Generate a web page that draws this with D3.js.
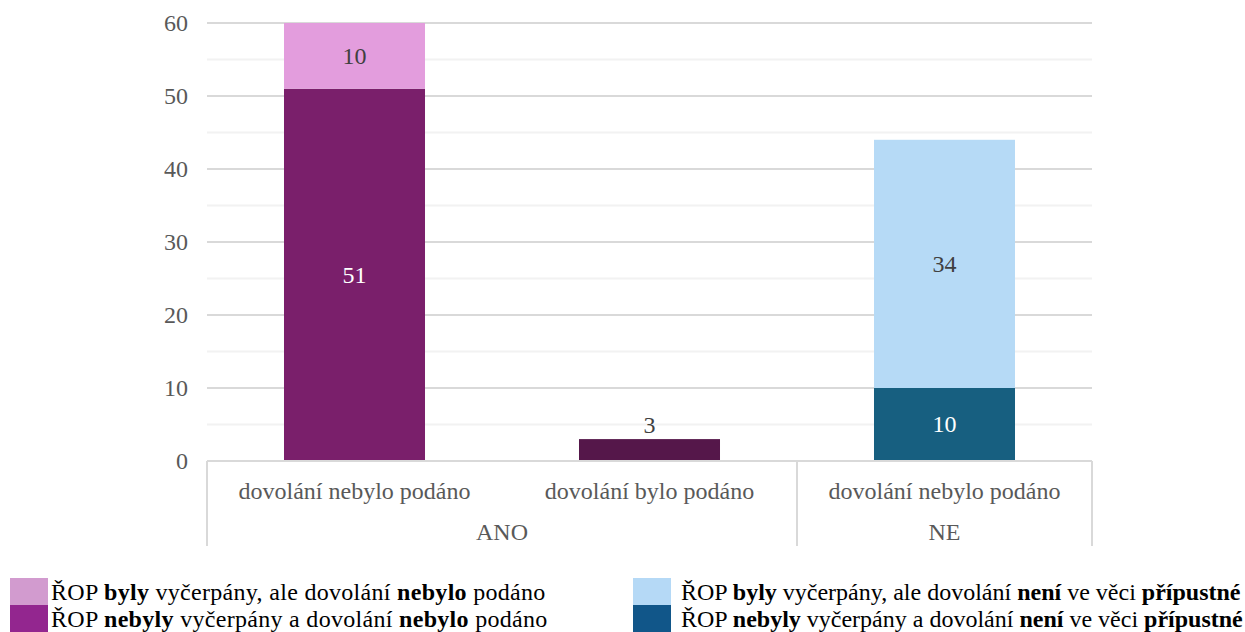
<!DOCTYPE html>
<html><head><meta charset="utf-8">
<script src="https://cdn.jsdelivr.net/npm/d3@7"></script>
<style>
html,body{margin:0;padding:0;background:#fff;}
</style></head>
<body><svg id="c" width="1245" height="632"></svg>
<script>
const categories = ["dovolání nebylo podáno", "dovolání bylo podáno", "dovolání nebylo podáno"];
const groups = ["ANO", "ANO", "NE"];
const groupNames = ["ANO", "NE"];
const yTicks = [0, 10, 20, 30, 40, 50, 60];
const minorTicks = [5, 15, 25, 35, 45, 55];
// series values per category
const sAnoNebylyVal = [51, 0, 0];
const sAnoBylyVal = [10, 0, 0];
const sAnoPodanoVal = [0, 3, 0];
const sNeNebylyVal = [0, 0, 10];
const sNeBylyVal = [0, 0, 34];

const series = [
  {key: "anoNebyly", values: sAnoNebylyVal, color: "#7a1f6b", label: "#ffffff", pos: "center"},
  {key: "anoByly", values: sAnoBylyVal, color: "#e39ddd", label: "#404040", pos: "center"},
  {key: "anoPodano", values: sAnoPodanoVal, color: "#55174a", label: "#404040", pos: "outside"},
  {key: "neNebyly", values: sNeNebylyVal, color: "#175f80", label: "#ffffff", pos: "center"},
  {key: "neByly", values: sNeBylyVal, color: "#b6daf6", label: "#404040", pos: "center"}
];

const legendItems = [
  {color: "#d29bcf", parts: [["ŘOP ", false], ["byly", true], [" vyčerpány, ale dovolání ", false], ["nebylo", true], [" podáno", false]]},
  {color: "#93268f", parts: [["ŘOP ", false], ["nebyly", true], [" vyčerpány a dovolání ", false], ["nebylo", true], [" podáno", false]]},
  {color: "#b5d9f6", parts: [["ŘOP ", false], ["byly", true], [" vyčerpány, ale dovolání ", false], ["není", true], [" ve věci ", false], ["přípustné", true]]},
  {color: "#115689", parts: [["ŘOP ", false], ["nebyly", true], [" vyčerpány a dovolání ", false], ["není", true], [" ve věci ", false], ["přípustné", true]]}
];

const FONT = '"Liberation Serif"';
const FS = 24;
const svg = d3.select("#c");
const pLeft = 207, pRight = 1092, pTop = 23, pBottom = 461;
const y = d3.scaleLinear().domain([0, 60]).range([pBottom, pTop]).clamp(true);
const x = d3.scaleBand().domain(d3.range(categories.length)).range([pLeft, pRight]).paddingInner(0.522).paddingOuter(0.261);
const xSlot = d3.scaleBand().domain(d3.range(categories.length)).range([pLeft, pRight]);

svg.append("g").selectAll("line").data(minorTicks).join("line")
  .attr("x1", pLeft).attr("x2", pRight).attr("y1", d => y(d)).attr("y2", d => y(d))
  .attr("stroke", "#f2f2f2").attr("stroke-width", 2);
svg.append("g").selectAll("line").data(yTicks.filter(d => d > 0)).join("line")
  .attr("x1", pLeft).attr("x2", pRight).attr("y1", d => y(d)).attr("y2", d => y(d))
  .attr("stroke", "#d9d9d9").attr("stroke-width", 2);

const yAxis = d3.axisLeft(y).tickValues(yTicks).tickSize(0).tickPadding(0);
const gy = svg.append("g").attr("transform", `translate(188,0)`).call(yAxis);
gy.select(".domain").remove();
gy.selectAll("text").style("font-family", FONT).style("font-size", FS + "px")
  .attr("fill", "#595959").attr("dy", "0.32em");

const stackBase = categories.map(() => 0);
series.forEach(s => {
  s.values.forEach((v, i) => {
    if (!v) return;
    const y0 = stackBase[i], y1 = y0 + v;
    stackBase[i] = y1;
    svg.append("rect")
      .attr("x", x(i)).attr("width", x.bandwidth())
      .attr("y", y(y1)).attr("height", y(y0) - y(y1))
      .attr("fill", s.color);
    const cy = s.pos === "center" ? (y(y0) + y(y1)) / 2 : y(y1) - 14;
    svg.append("text").attr("x", x(i) + x.bandwidth() / 2).attr("y", cy)
      .attr("dy", "0.33em").attr("text-anchor", "middle")
      .style("font-family", FONT).style("font-size", FS + "px")
      .attr("fill", s.label).text(v);
  });
});

svg.append("line").attr("x1", pLeft).attr("x2", pRight).attr("y1", pBottom).attr("y2", pBottom)
  .attr("stroke", "#d9d9d9").attr("stroke-width", 2);

svg.append("g").selectAll("text").data(categories).join("text")
  .attr("x", (d, i) => xSlot(i) + xSlot.bandwidth() / 2).attr("y", 491)
  .attr("dy", "0.33em").attr("text-anchor", "middle")
  .style("font-family", FONT).style("font-size", FS + "px")
  .attr("fill", "#595959").text(d => d);

const groupRanges = groupNames.map(g => {
  const idx = groups.map((gg, i) => gg === g ? i : -1).filter(i => i >= 0);
  return {name: g, x0: xSlot(idx[0]), x1: xSlot(idx[idx.length - 1]) + xSlot.bandwidth()};
});
const sepX = [pLeft].concat(groupRanges.map(r => r.x1));
svg.append("g").selectAll("line").data(sepX).join("line")
  .attr("x1", d => d).attr("x2", d => d).attr("y1", pBottom).attr("y2", 546)
  .attr("stroke", "#d9d9d9").attr("stroke-width", 2);
svg.append("g").selectAll("text").data(groupRanges).join("text")
  .attr("x", d => (d.x0 + d.x1) / 2).attr("y", 532)
  .attr("dy", "0.33em").attr("text-anchor", "middle")
  .style("font-family", FONT).style("font-size", FS + "px")
  .attr("fill", "#595959").text(d => d.name);

const legPos = [[10, 578], [10, 605], [633, 578], [633, 605]];
legendItems.forEach((it, k) => {
  const [lx, ly] = legPos[k];
  svg.append("rect").attr("x", lx).attr("y", ly).attr("width", 38).attr("height", 27).attr("fill", it.color);
  const t = svg.append("text").attr("x", lx + 41 + (k >= 2 ? 7 : 0)).attr("y", ly + 14)
    .attr("dy", "0.33em").style("font-family", FONT).style("font-size", FS + "px")
    .style("letter-spacing", k < 2 ? "0.3px" : "0px").attr("fill", "#000");
  it.parts.forEach(([s, b]) => {
    t.append("tspan").attr("font-weight", b ? "bold" : "normal").attr("xml:space", "preserve").text(s);
  });
});
</script></body></html>
